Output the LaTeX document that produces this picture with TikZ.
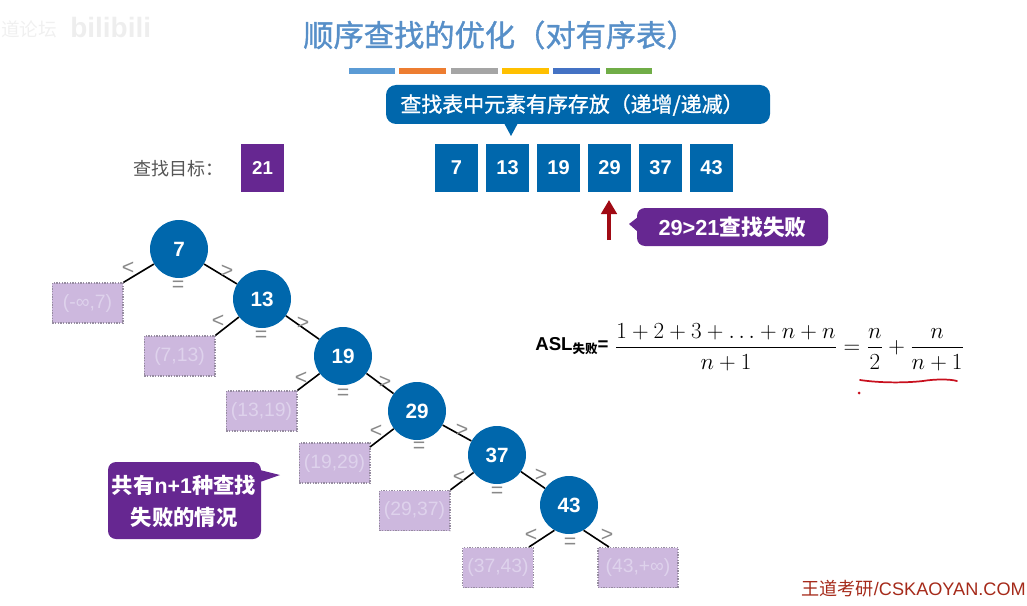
\documentclass[tikz,border=0pt]{standalone}
\usepackage[no-math]{fontspec}
\usepackage{amsmath}
\setmainfont{Liberation Sans}
\newfontfamily\cjk{Noto Sans CJK SC}
\newfontfamily\cjkmed[FakeBold=1.2]{Noto Sans CJK SC}
\usetikzlibrary{arrows.meta}
\newcommand{\fs}[1]{\fontsize{#1}{#1}\selectfont}

\tikzset{
bluefill/.style={fill={rgb, 255:red, 0; green, 103; blue, 172 }},
purplefill/.style={fill={rgb, 255:red, 102; green, 39; blue, 145 }},
keybox/.style={bluefill, text=white, font=\fs{15}\bfseries, minimum width=32.25pt, minimum height=36pt, inner sep=0pt},
treenode/.style={circle, bluefill, text=white, font=\fs{15.5}\bfseries, minimum size=43.5pt, inner sep=0pt},
gapbox/.style={fill={rgb, 255:red, 205; green, 184; blue, 222 }, draw={rgb, 255:red, 150; green, 140; blue, 160 }, densely dotted, line width=1pt, text={rgb, 255:red, 222; green, 210; blue, 236 }, font=\fs{14.5}, minimum width=53pt, minimum height=30pt, inner sep=0pt},
cmpmark/.style={text={rgb, 255:red, 136; green, 136; blue, 136 }, font=\fs{16}, inner sep=0pt},
treeedge/.style={line width=1.2pt},
calloutword/.style={text=white, font=\fs{16.3}\bfseries, inner sep=0pt, align=center}
}

\begin{document}
\begin{tikzpicture}[x=0.75pt,y=0.75pt,yscale=-1,xscale=1]
\useasboundingbox (0,0) rectangle (1027,606);

% Watermark
\node (markcn) [anchor=west, inner sep=0pt, font=\fs{14}\cjk, text={rgb, 255:red, 240; green, 240; blue, 240 }] at (1,29) {道论坛};
\node (markbili) [anchor=west, inner sep=0pt, font=\fs{21}\bfseries, text={rgb, 255:red, 238; green, 238; blue, 238 }] at (70,27) {bilibili};

% Title
\node (title) [inner sep=0pt, font=\fs{22.7}\cjkmed, text={rgb, 255:red, 87; green, 143; blue, 200 }] at (500,35) {顺序查找的优化（对有序表）};

% Colour bars
\fill [color={rgb, 255:red, 91; green, 155; blue, 213 }] (349,68) rectangle (395,74);
\fill [color={rgb, 255:red, 237; green, 125; blue, 49 }] (399,68) rectangle (446,74);
\fill [color={rgb, 255:red, 165; green, 165; blue, 165 }] (451,68) rectangle (498,74);
\fill [color={rgb, 255:red, 255; green, 192; blue, 0 }] (502,68) rectangle (549,74);
\fill [color={rgb, 255:red, 68; green, 114; blue, 196 }] (553,68) rectangle (600,74);
\fill [color={rgb, 255:red, 112; green, 173; blue, 71 }] (606,68) rectangle (652,74);

% Upper callout
\fill [bluefill, rounded corners=7.5] (386,85) rectangle (770,124);
\fill [bluefill] (504,123) -- (518,123) -- (511,136) -- cycle;
\node (ordernote) [calloutword, font=\fs{15.7}\cjkmed] at (572,105) {查找表中元素有序存放（递增/递减）};

% Search target
\node (targetword) [anchor=west, inner sep=0pt, font=\fs{13.5}\cjk, text={rgb, 255:red, 85; green, 85; blue, 85 }] at (133,169) {查找目标：};
\node (target) [keybox, purplefill, font=\fs{14}\bfseries] at (262.5,168) {21};

% Keys
\node (s7) [keybox] at (456.5,168) {7};
\node (s13) [keybox] at (507.5,168) {13};
\node (s19) [keybox] at (558.5,168) {19};
\node (s29) [keybox] at (609.5,168) {29};
\node (s37) [keybox] at (660.5,168) {37};
\node (s43) [keybox] at (711.5,168) {43};

% Pointer
\coordinate (ptrtail) at (609,240);
\coordinate (ptrtip) at (609,200);
\draw [color={rgb, 255:red, 160; green, 10; blue, 20 }, line width=3pt, -{Triangle[length=10.5pt,width=11.5pt]}] (ptrtail) -- (ptrtip);

% Failure callout
\fill [purplefill, rounded corners=6] (637,208) rectangle (828,246);
\fill [purplefill] (638,217) -- (638,232) -- (629,224) -- cycle;
\node (failnote) [calloutword] at (732.5,227) {29>21{\cjk 查找失败}};

% Tree nodes
\node (n7) [treenode] at (179,249) {7};
\node (n13) [treenode] at (262,299) {13};
\node (n19) [treenode] at (343,356) {19};
\node (n29) [treenode] at (417,411) {29};
\node (n37) [treenode] at (497,455) {37};
\node (n43) [treenode] at (569,505) {43};

% Failure ranges
\node (g0) [gapbox] at (87.5,303) {(-∞,7)};
\node (g1) [gapbox] at (179.5,356) {(7,13)};
\node (g2) [gapbox] at (261.5,411) {(13,19)};
\node (g3) [gapbox] at (334.5,463) {(19,29)};
\node (g4) [gapbox] at (414.5,510.5) {(29,37)};
\node (g5) [gapbox] at (498,567.5) {(37,43)};
\node (g6) [gapbox, minimum width=60pt] at (638,567.5) {(43,+∞)};

% Edges
\coordinate (g3side) at (370,447);
\coordinate (g5top) at (529,547);
\coordinate (g6top) at (609,547);
\draw [treeedge] (n7) -- (g0.north east);
\draw [treeedge] (n7) -- (n13);
\draw [treeedge] (n13) -- (g1.north east);
\draw [treeedge] (n13) -- (n19);
\draw [treeedge] (n19) -- (g2.north east);
\draw [treeedge] (n19) -- (n29);
\draw [treeedge] (n29) -- (g3side);
\draw [treeedge] (n29) -- (n37);
\draw [treeedge] (n37) -- (g4.north east);
\draw [treeedge] (n37) -- (n43);
\draw [treeedge] (n43.240) -- (g5top);
\draw [treeedge] (n43.300) -- (g6top);

% Comparison marks
\node (lt7) [cmpmark] at (128,268) {<};
\node (gt7) [cmpmark] at (227,271) {>};
\node (eq7) [cmpmark] at (178,286) {=};
\node (lt13) [cmpmark] at (218,321) {<};
\node (gt13) [cmpmark] at (303,323) {>};
\node (eq13) [cmpmark] at (261,336) {=};
\node (lt19) [cmpmark] at (301,378) {<};
\node (gt19) [cmpmark] at (385,382) {>};
\node (eq19) [cmpmark] at (343,394) {=};
\node (lt29) [cmpmark] at (376,431) {<};
\node (gt29) [cmpmark] at (462,430) {>};
\node (eq29) [cmpmark] at (419,447) {=};
\node (lt37) [cmpmark] at (459,477) {<};
\node (gt37) [cmpmark] at (541,475) {>};
\node (eq37) [cmpmark] at (497,492) {=};
\node (lt43) [cmpmark] at (531,535) {<};
\node (gt43) [cmpmark] at (607,535) {>};
\node (eq43) [cmpmark] at (570,543) {=};

% Left callout
\fill [purplefill, rounded corners=6] (108,462) rectangle (261,539);
\fill [purplefill] (260,470) -- (260,482) -- (280,475) -- cycle;
\node (countnote) [calloutword, font=\fs{16}\bfseries] at (184,485) {{\cjk 共有}n+1{\cjk 种查找}};
\node (countnote2) [calloutword, font=\fs{16}\bfseries\cjk] at (184,517) {失败的情况};

% Formula
\node (aslword) [anchor=west, inner sep=0pt, font=\fs{14}\bfseries] at (535,346) {ASL\raisebox{-2.5pt}{\fs{9.4}\cjk 失败}=};
\node (aslmath) [anchor=west, inner sep=0pt, font=\fs{17.5}] at (614.5,347) {$\dfrac{1+2+3+\ldots+n+n}{n+1}=\dfrac{n}{2}+\dfrac{n}{n+1}$};

% Red ink
\draw [color={rgb, 255:red, 200; green, 16; blue, 30 }, line width=1.3pt, line cap=round] (860,380) .. controls (880,383) and (905,383) .. (923,381) .. controls (935,379) and (950,379) .. (957,381);
\fill [color={rgb, 255:red, 200; green, 16; blue, 30 }] (859,393) circle [radius=1.5];

% Site mark
\node (site) [anchor=east, inner sep=0pt, font=\fs{13.6}, text={rgb, 255:red, 165; green, 42; blue, 26 }] at (1026,589) {{\cjk 王道考研}/CSKAOYAN.COM};

\end{tikzpicture}
\end{document}
